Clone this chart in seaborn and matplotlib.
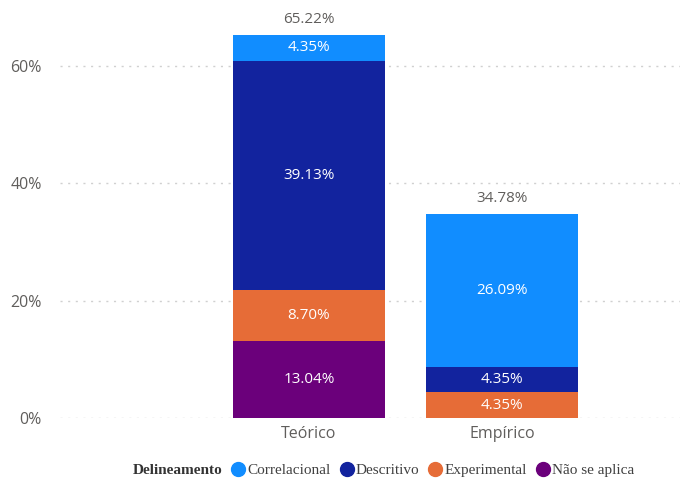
import numpy as np
import pandas as pd
import matplotlib
matplotlib.use("Agg")
import matplotlib.pyplot as plt
from matplotlib.lines import Line2D
import seaborn as sns

categories = ["Teórico", "Empírico"]
series = ["Correlacional", "Descritivo", "Experimental", "Não se aplica"]
# stacked from bottom: Não se aplica, Experimental, Descritivo, Correlacional
nao_se_aplica = [13.04, 0.0]
experimental = [8.70, 4.35]
descritivo = [39.13, 4.35]
correlacional = [4.35, 26.09]
totals = [65.22, 34.78]
yticks = [0, 20, 40, 60]

colors = {
    "Correlacional": "#118DFF",
    "Descritivo": "#12239E",
    "Experimental": "#E66C37",
    "Não se aplica": "#6B007B",
}

sns.set_theme(style="white")
plt.rcParams["font.family"] = ["Open Sans", "DejaVu Sans"]

fig = plt.figure(figsize=(6.8, 4.8), dpi=100)
ax = fig.add_axes([60 / 680, 62 / 480, 620 / 680, 408 / 480])

stack_order = [("Não se aplica", nao_se_aplica), ("Experimental", experimental),
               ("Descritivo", descritivo), ("Correlacional", correlacional)]
bottoms = np.zeros(len(categories))
segs = []
for name, vals in stack_order:
    vals = np.array(vals)
    segs.append((name, bottoms.copy(), vals))
    bottoms = bottoms + vals

# draw cumulative heights from the tallest down so each layer shows its segment
for name, bot, vals in reversed(segs):
    df = pd.DataFrame({"cat": categories, "val": bot + vals})
    sns.barplot(data=df, x="cat", y="val", color=colors[name], saturation=1,
                width=0.79, ax=ax, linewidth=0, zorder=3)

for name, bot, vals in segs:
    for i, v in enumerate(vals):
        if v > 0:
            ax.text(i, bot[i] + v / 2, f"{v:.2f}%", ha="center", va="center",
                    color="white", fontsize=11, zorder=5)

for i, t in enumerate(totals):
    ax.text(i, t + 1.4, f"{t:.2f}%", ha="center", va="bottom",
            color="#605E5C", fontsize=11, zorder=5)

ax.set_xlim(-1.29, 1.922)
ax.set_ylim(0, 69.5)
ax.set_yticks(yticks)
ax.set_yticklabels([f"{y}%" for y in yticks])
for y in yticks:
    ax.axhline(y, color="#D0D0D0", linestyle=(0, (1.5, 4)), linewidth=1, zorder=1)
ax.tick_params(axis="both", colors="#605E5C", labelsize=11.5, length=0)
ax.tick_params(axis="x", pad=6)
ax.tick_params(axis="y", pad=13)
ax.set_xlabel("")
ax.set_ylabel("")
for s in ax.spines.values():
    s.set_visible(False)

# legend: bold title as the first, marker-less entry, then one dot per series
handles = [Line2D([], [], linestyle="", marker=None)]
handles += [Line2D([0], [0], marker="o", linestyle="", markersize=10,
                   markerfacecolor=colors[s], markeredgecolor=colors[s]) for s in series]
labels = ["Delineamento"] + series
leg = fig.legend(handles, labels, loc="center", bbox_to_anchor=(375 / 680, 1 - 470 / 480),
                 ncol=5, frameon=False, handletextpad=0.1, handlelength=1.0,
                 columnspacing=0.55, prop={"family": "Liberation Serif", "size": 11})
texts = leg.get_texts()
for t in texts:
    t.set_color("#404040")
texts[0].set_fontweight("bold")
texts[0].set_color("#333333")

fig.savefig("out.png", dpi=100)
